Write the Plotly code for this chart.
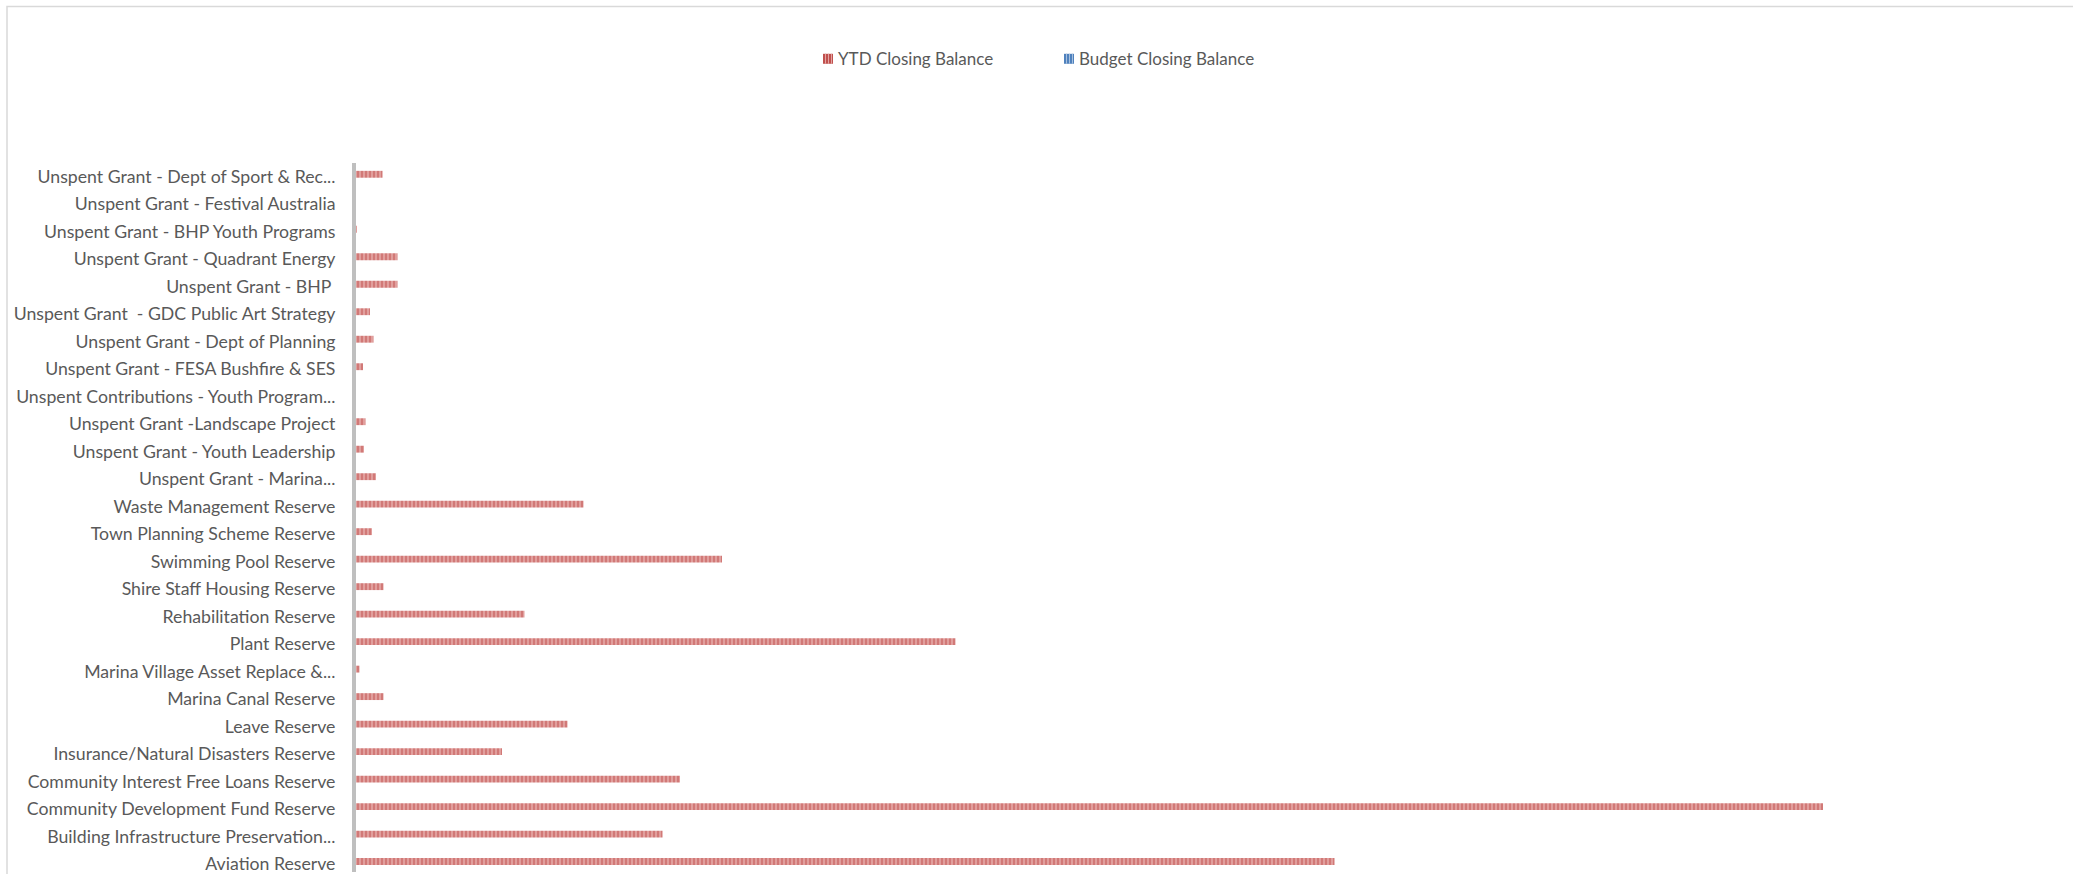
import plotly.graph_objects as go

# Reserve accounts, listed bottom-to-top as they appear on the axis
categories = [
    "Aviation Reserve",
    "Building Infrastructure Preservation...",
    "Community Development Fund Reserve",
    "Community Interest Free Loans Reserve",
    "Insurance/Natural Disasters Reserve",
    "Leave Reserve",
    "Marina Canal Reserve",
    "Marina Village Asset Replace &...",
    "Plant Reserve",
    "Rehabilitation Reserve",
    "Shire Staff Housing Reserve",
    "Swimming Pool Reserve",
    "Town Planning Scheme Reserve",
    "Waste Management Reserve",
    "Unspent Grant - Marina...",
    "Unspent Grant - Youth Leadership",
    "Unspent Grant -Landscape Project",
    "Unspent Contributions - Youth Program...",
    "Unspent Grant - FESA Bushfire & SES",
    "Unspent Grant - Dept of Planning",
    "Unspent Grant  - GDC Public Art Strategy",
    "Unspent Grant - BHP ",
    "Unspent Grant - Quadrant Energy",
    "Unspent Grant - BHP Youth Programs",
    "Unspent Grant - Festival Australia",
    "Unspent Grant - Dept of Sport & Rec...",
]

ytd_closing = [
    1957000, 613000, 2934000, 648000, 292000, 423000, 55000, 7000,
    1199000, 337000, 55000, 732000, 32000, 455000, 40000, 16000,
    19000, 0, 14000, 35000, 28000, 83000, 83000, 1000, 0, 53000,
]

budget_closing = [0] * len(categories)

series_names = ["YTD Closing Balance", "Budget Closing Balance"]

RED_DARK = "#C0504D"
RED_LIGHT = "#E3A3A1"
BLUE_DARK = "#4F81BD"
BLUE_LIGHT = "#A7C0DE"
TEXT = "#595959"
FONT = "Lato"
FSIZE = 17.7

W, H = 2073, 874
L, R, T, B = 356, 23, 163, 0
PW, PH = W - L - R, H - T - B

fig = go.Figure()

fig.add_trace(go.Bar(
    y=categories, x=ytd_closing, orientation="h", name=series_names[0],
    offset=-0.035, width=0.25,
    marker=dict(color=RED_LIGHT, line=dict(width=0),
                pattern=dict(shape="|", fgcolor=RED_DARK, size=4, solidity=0.55)),
    showlegend=False,
))
fig.add_trace(go.Bar(
    y=categories, x=budget_closing, orientation="h", name=series_names[1],
    offset=-0.285, width=0.25,
    marker=dict(color=BLUE_LIGHT, line=dict(width=0),
                pattern=dict(shape="|", fgcolor=BLUE_DARK, size=4, solidity=0.55)),
    showlegend=False,
))


def px_x(p):
    return (p - L) / PW


def px_y(p):
    return (H - B - p) / PH


shapes = [
    # chart frame
    dict(type="rect", xref="paper", yref="paper",
         x0=px_x(7), x1=px_x(2090), y0=px_y(6), y1=px_y(900),
         line=dict(color="#D9D9D9", width=1.5), fillcolor="rgba(0,0,0,0)", layer="below"),
]

annotations = []
legend_items = [
    (823, series_names[0], RED_DARK, RED_LIGHT),
    (1064, series_names[1], BLUE_DARK, BLUE_LIGHT),
]
ly = 58.5
for lx, name, dark, light in legend_items:
    shapes.append(dict(type="rect", xref="paper", yref="paper",
                       x0=px_x(lx), x1=px_x(lx + 10), y0=px_y(ly + 5), y1=px_y(ly - 5),
                       line=dict(width=0), fillcolor=dark))
    for sx in (lx + 2, lx + 5, lx + 8):
        shapes.append(dict(type="rect", xref="paper", yref="paper",
                           x0=px_x(sx), x1=px_x(sx + 1), y0=px_y(ly + 5), y1=px_y(ly - 5),
                           line=dict(width=0), fillcolor=light))
    annotations.append(dict(xref="paper", yref="paper", x=px_x(lx + 13), y=px_y(ly),
                            xanchor="left", yanchor="middle", showarrow=False,
                            text=name, font=dict(family=FONT, size=17, color=TEXT)))

fig.update_layout(
    width=W, height=H,
    margin=dict(l=L, r=R, t=T, b=B, pad=0),
    paper_bgcolor="white", plot_bgcolor="white",
    barmode="overlay",
    showlegend=False,
    font=dict(family=FONT, size=FSIZE, color=TEXT),
    xaxis=dict(visible=False, range=[0, 2000 * PW], showgrid=False, zeroline=False),
    yaxis=dict(type="category", categoryorder="array", categoryarray=categories,
               range=[-0.29, len(categories) - 0.5],
               showline=True, linecolor="#BFBFBF", linewidth=4,
               showgrid=False, zeroline=False, ticks="", ticklabelstandoff=13,
               tickfont=dict(family=FONT, size=FSIZE, color=TEXT)),
    shapes=shapes,
    annotations=annotations,
)

fig.write_html("out.html")
